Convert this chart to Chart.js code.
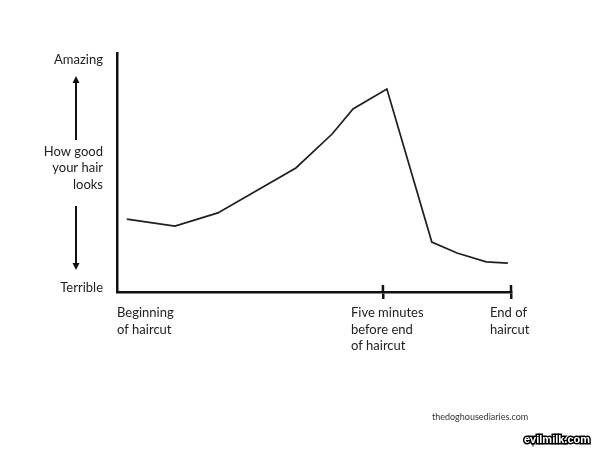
<!DOCTYPE html>
<html>
<head>
<meta charset="utf-8">
<script src="https://cdn.jsdelivr.net/npm/chart.js@4"></script>
<style>
  html, body { margin: 0; padding: 0; background: #fff; }
</style>
</head>
<body>
<canvas id="haircut" width="600" height="450"></canvas>
<script>
// time into the haircut, 0 = start, 100 = end
const timeline = [2.5, 14.7, 25.6, 45.4, 54.6, 59.9, 68.5, 79.9, 86.3, 93.7, 99.2];
// how good the hair looks, 0 = terrible, 100 = amazing
const hairLooks = [30.5, 27.6, 33.1, 51.9, 66.1, 76.6, 84.9, 20.9, 16.3, 12.6, 12.1];

const xTickValues = [0, 67.5, 100];
const xTickLabels = [['Beginning', 'of haircut'], ['Five minutes', 'before end', 'of haircut'], ['End of', 'haircut']];
const yTickValues = [1.7, 97];
const yTickLabels = ['Terrible', 'Amazing'];
const yTitle = ['How good', 'your hair', 'looks'];
const credits = ['thedoghousediaries.com', 'evilmilk.com'];

const FONT = 'Lato';
const INK = '#111';

function arrow(ctx, x, from, to) {
  const dir = to < from ? -1 : 1;
  ctx.beginPath();
  ctx.moveTo(x, from);
  ctx.lineTo(x, to - dir * 5);
  ctx.stroke();
  ctx.beginPath();
  ctx.moveTo(x, to);
  ctx.lineTo(x - 3.5, to - dir * 7);
  ctx.lineTo(x + 3.5, to - dir * 7);
  ctx.closePath();
  ctx.fill();
}

const extras = {
  id: 'extras',
  beforeDraw(chart) {
    // the hand drawn labels are left aligned blocks
    const x = chart.scales.x;
    const shift = [0, -32, -21];
    x.getLabelItems().forEach((it, i) => {
      it.options.textAlign = 'left';
      it.options.translation[0] = x.getPixelForValue(xTickValues[i]) + shift[i];
    });
  },
  afterDraw(chart) {
    const {ctx, chartArea} = chart;
    const x = chart.scales.x, y = chart.scales.y;
    ctx.save();
    ctx.strokeStyle = INK;
    ctx.fillStyle = INK;
    ctx.lineWidth = 2.5;
    // upper half of the tick marks
    xTickValues.slice(1).forEach(v => {
      const px = x.getPixelForValue(v);
      ctx.beginPath();
      ctx.moveTo(px, chartArea.bottom - 7);
      ctx.lineTo(px, chartArea.bottom);
      ctx.stroke();
    });
    // axis title, horizontal, between the arrows
    ctx.font = '13px ' + FONT;
    ctx.fillStyle = '#222';
    ctx.textAlign = 'right';
    ctx.textBaseline = 'middle';
    const mid = y.getPixelForValue(51.9);
    yTitle.forEach((t, i) => ctx.fillText(t, chartArea.left - 14, mid + (i - 1) * 16.5));
    ctx.fillStyle = INK;
    ctx.lineWidth = 2;
    arrow(ctx, 76, y.getPixelForValue(63.6), y.getPixelForValue(90.4));
    arrow(ctx, 76, y.getPixelForValue(36), y.getPixelForValue(9.2));
    // credits
    ctx.textAlign = 'left';
    ctx.font = '9px ' + FONT;
    ctx.fillStyle = '#333';
    ctx.fillText(credits[0], 432, 417);
    ctx.font = 'bold 11px "Liberation Sans"';
    ctx.lineWidth = 3;
    ctx.strokeStyle = '#000';
    ctx.strokeText(credits[1], 524, 440);
    ctx.fillStyle = '#fff';
    ctx.fillText(credits[1], 524, 440);
    ctx.restore();
  }
};

new Chart(document.getElementById('haircut').getContext('2d'), {
  type: 'line',
  data: {
    datasets: [{
      data: timeline.map((t, i) => ({x: t, y: hairLooks[i]})),
      borderColor: '#1f1f1f',
      borderWidth: 1.7,
      pointRadius: 0,
      tension: 0,
      fill: false
    }]
  },
  options: {
    responsive: false,
    animation: false,
    layout: { padding: { top: 53, right: 89, left: 0, bottom: 0 } },
    plugins: { legend: { display: false }, tooltip: { enabled: false } },
    scales: {
      x: {
        type: 'linear',
        min: 0,
        max: 100,
        afterBuildTicks: s => { s.ticks = xTickValues.map(v => ({value: v})); },
        afterFit: s => { s.height = 158; },
        border: { color: INK, width: 2.5 },
        grid: {
          drawOnChartArea: false,
          tickLength: 7,
          lineWidth: 2.5,
          color: c => c.index === 0 ? 'rgba(0,0,0,0)' : INK
        },
        ticks: {
          autoSkip: false,
          maxRotation: 0,
          padding: 5,
          color: '#222',
          font: { family: FONT, size: 13, lineHeight: 1.3 },
          callback: (v, i) => xTickLabels[i]
        }
      },
      y: {
        min: 0,
        max: 100,
        afterBuildTicks: s => { s.ticks = yTickValues.map(v => ({value: v})); },
        afterFit: s => { s.width = 117; },
        border: { color: INK, width: 2.5 },
        grid: { drawOnChartArea: false, drawTicks: false },
        ticks: {
          padding: 14,
          color: '#222',
          font: { family: FONT, size: 13 },
          callback: (v, i) => yTickLabels[i]
        }
      }
    }
  },
  plugins: [extras]
});
</script>
</body>
</html>
